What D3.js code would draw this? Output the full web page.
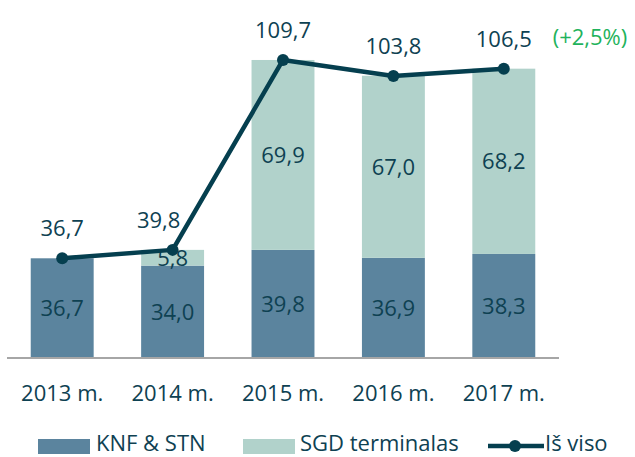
<!DOCTYPE html>
<html>
<head>
<meta charset="utf-8">
<script src="https://cdn.jsdelivr.net/npm/d3@7"></script>
<style>
  body { margin: 0; background: #fff; }
  text { font-family: "Open Sans", "Noto Sans", sans-serif; }
</style>
</head>
<body>
<div id="chart"></div>
<script>
// Chart data
const years = ['2013 m.', '2014 m.', '2015 m.', '2016 m.', '2017 m.'];
const knfStn = [36.7, 34.0, 39.8, 36.9, 38.3];
const sgd = [0, 5.8, 69.9, 67.0, 68.2];
const total = [36.7, 39.8, 109.7, 103.8, 106.5];
const change = '(+2,5%)';

const width = 635;
const height = 457;
const fontSize = 22;
const textColor = '#0e4152';
const lineColor = '#053f4f';

const svg = d3.select('#chart')
    .append('svg')
    .attr('width', width)
    .attr('height', height);

const x = d3.scaleBand()
    .domain(years)
    .range([7, 559])
    .paddingInner(0.43)
    .paddingOuter(0.215);

const y = d3.scaleLinear()
    .domain([0, 120])
    .range([358, 32]);

const fmt = v => v.toFixed(1).replace('.', ',');

// Stacked bars
const rows = years.map((yr, i) => ({ yr, knf: knfStn[i], sgd: sgd[i], total: total[i] }));
const stack = d3.stack().keys(['knf', 'sgd'])(rows);
const colors = { knf: '#5b849e', sgd: '#b1d2cb' };

stack.forEach(layer => {
    svg.append('g')
        .selectAll('rect')
        .data(layer)
        .enter()
        .append('rect')
        .attr('x', d => x(d.data.yr))
        .attr('width', x.bandwidth())
        .attr('y', d => y(d[1]))
        .attr('height', d => y(d[0]) - y(d[1]))
        .attr('fill', colors[layer.key]);

    svg.append('g')
        .selectAll('text')
        .data(layer.filter(d => d[1] - d[0] > 0))
        .enter()
        .append('text')
        .attr('x', d => x(d.data.yr) + x.bandwidth() / 2)
        .attr('y', d => (y(d[0]) + y(d[1])) / 2 + 8)
        .attr('text-anchor', 'middle')
        .attr('font-size', fontSize)
        .attr('fill', textColor)
        .text(d => fmt(d[1] - d[0]));
});

// Axis line
svg.append('line')
    .attr('x1', 7).attr('x2', 559)
    .attr('y1', 358).attr('y2', 358)
    .attr('stroke', '#a6a6a6')
    .attr('stroke-width', 2);

// Category labels
svg.append('g')
    .selectAll('text')
    .data(years)
    .enter()
    .append('text')
    .attr('x', d => x(d) + x.bandwidth() / 2)
    .attr('y', 401)
    .attr('text-anchor', 'middle')
    .attr('font-size', fontSize)
    .attr('fill', textColor)
    .text(d => d);

// Total line
const cx = d => x(d.yr) + x.bandwidth() / 2;
svg.append('path')
    .datum(rows)
    .attr('fill', 'none')
    .attr('stroke', lineColor)
    .attr('stroke-width', 4.5)
    .attr('stroke-linejoin', 'round')
    .attr('d', d3.line().x(cx).y(d => y(d.total)));

svg.append('g')
    .selectAll('circle')
    .data(rows)
    .enter()
    .append('circle')
    .attr('cx', cx)
    .attr('cy', d => y(d.total))
    .attr('r', 6)
    .attr('fill', lineColor);

// Total labels
const labelShift = [0, -14, 0, 0, 0];
svg.append('g')
    .selectAll('text')
    .data(rows)
    .enter()
    .append('text')
    .attr('x', (d, i) => cx(d) + labelShift[i])
    .attr('y', d => y(d.total) - 22)
    .attr('text-anchor', 'middle')
    .attr('font-size', fontSize)
    .attr('fill', textColor)
    .text(d => fmt(d.total));

svg.append('text')
    .attr('x', 590)
    .attr('y', 45)
    .attr('text-anchor', 'middle')
    .attr('font-size', fontSize)
    .attr('fill', '#1fb35c')
    .text(change);

// Legend
const legend = svg.append('g');
legend.append('rect').attr('x', 38).attr('y', 439).attr('width', 52).attr('height', 15).attr('fill', colors.knf);
legend.append('text').attr('x', 96).attr('y', 451).attr('font-size', fontSize).attr('fill', textColor).text('KNF & STN');
legend.append('rect').attr('x', 243).attr('y', 439).attr('width', 52).attr('height', 15).attr('fill', colors.sgd);
legend.append('text').attr('x', 300).attr('y', 451).attr('font-size', fontSize).attr('fill', textColor).text('SGD terminalas');
legend.append('line').attr('x1', 488).attr('x2', 544).attr('y1', 446).attr('y2', 446)
    .attr('stroke', lineColor).attr('stroke-width', 4.5);
legend.append('circle').attr('cx', 515).attr('cy', 446).attr('r', 6).attr('fill', lineColor);
legend.append('text').attr('x', 545).attr('y', 451).attr('font-size', fontSize).attr('fill', textColor).text('Iš viso');
</script>
</body>
</html>
